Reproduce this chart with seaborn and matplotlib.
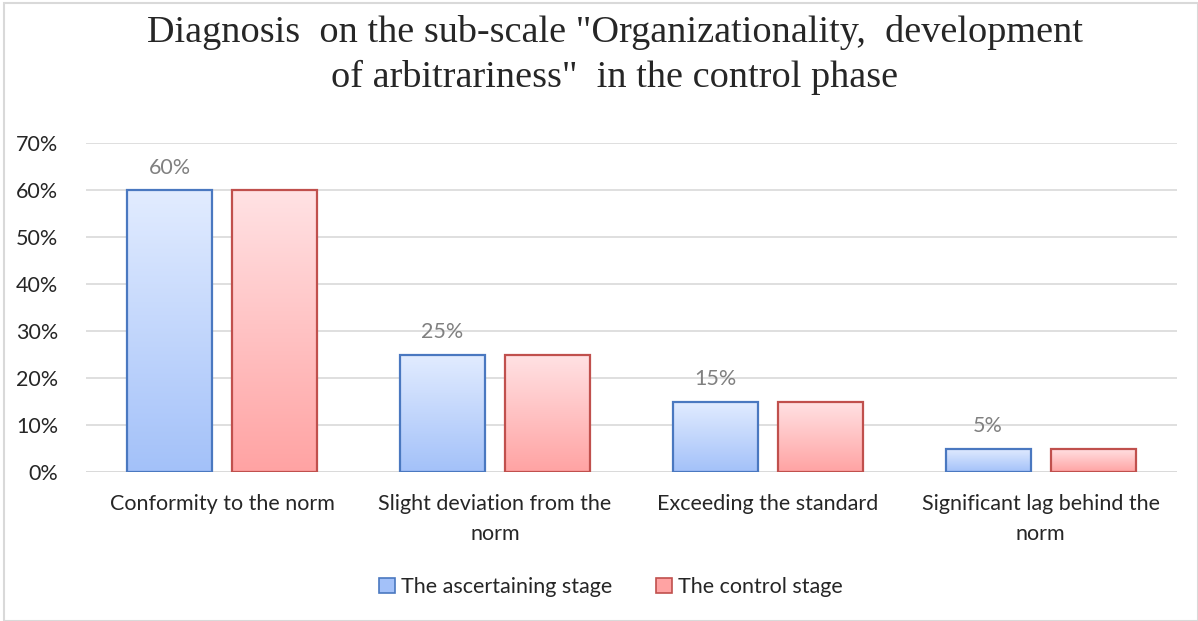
import matplotlib
matplotlib.use("Agg")
import matplotlib.pyplot as plt
import numpy as np
import pandas as pd
import seaborn as sns
from matplotlib.colors import LinearSegmentedColormap
from matplotlib.patches import Patch, Rectangle

# chart data
categories = ["Conformity to the norm", "Slight deviation from the\nnorm",
              "Exceeding the standard", "Significant lag behind the\nnorm"]
stages = ["The ascertaining stage", "The control stage"]
ascertaining = [60, 25, 15, 5]
control = [60, 25, 15, 5]
yticks = [0, 10, 20, 30, 40, 50, 60, 70]

df = pd.DataFrame({
    "category": categories * 2,
    "stage": [stages[0]] * 4 + [stages[1]] * 4,
    "value": ascertaining + control,
})

# colours: edge, top of gradient, bottom of gradient
edge_cols = {stages[0]: "#4a78c0", stages[1]: "#c0504d"}
grad_cols = {stages[0]: ("#e2ecff", "#a3c1f9"), stages[1]: ("#ffe2e4", "#ffa3a3")}

FS = 15.5

sns.set_style("white")
fig = plt.figure(figsize=(11.98, 6.21), dpi=100)
ax = fig.add_axes([86 / 1198, 1 - 472 / 621, (1177 - 86) / 1198, (472 - 143) / 621])

sns.barplot(data=df, x="category", y="value", hue="stage", ax=ax,
            palette=[grad_cols[s][1] for s in stages], width=0.77, gap=0.19,
            legend=False, zorder=3)

# gradient fill for each bar, clipped to the bar shape
for cont, stage in zip(ax.containers, stages):
    cmap = LinearSegmentedColormap.from_list(stage, [grad_cols[stage][1], grad_cols[stage][0]])
    for bar in cont:
        x0, y0 = bar.get_x(), bar.get_y()
        w, h = bar.get_width(), bar.get_height()
        grad = np.linspace(0, 1, 256).reshape(-1, 1)
        im = ax.imshow(grad, cmap=cmap, origin="lower", aspect="auto",
                       extent=[x0, x0 + w, y0, y0 + h], zorder=2)
        im.set_clip_path(bar)
        bar.set_facecolor("none")
        bar.set_edgecolor(edge_cols[stage])
        bar.set_linewidth(1.6)
        bar.set_zorder(4)

ax.set_xlim(-0.5, 3.5)
ax.set_ylim(0, 70)

# data labels only on the first series
ax.bar_label(ax.containers[0], labels=[f"{v}%" for v in ascertaining], padding=9,
             color="#808080", fontsize=FS, family="Lato")

ax.set_yticks(yticks)
ax.set_yticklabels([f"{v}%" for v in yticks], fontsize=FS, family="Lato")
ax.tick_params(axis="x", labelsize=FS, length=0, pad=16)
ax.tick_params(axis="y", length=0, pad=20)
for lab in ax.get_xticklabels():
    lab.set_family("Lato")
    lab.set_linespacing(1.6)
ax.yaxis.grid(True, color="#d9d9d9", linewidth=1.2, zorder=0)
ax.set_axisbelow(True)
for s in ax.spines.values():
    s.set_visible(False)
ax.axhline(0, color="#d9d9d9", linewidth=1.2, zorder=1)
ax.set_xlabel("")
ax.set_ylabel("")

fig.text(0.513, 1 - 55 / 621,
         "Diagnosis  on the sub-scale \"Organizationality,  development\nof arbitrariness\"  in the control phase",
         ha="center", va="center", fontsize=27.5, family="Liberation Serif", linespacing=1.33)

handles = [Patch(facecolor=grad_cols[s][1], edgecolor=edge_cols[s], linewidth=1.2, label=s) for s in stages]
fig.legend(handles=handles, loc="center", bbox_to_anchor=(0.51, 1 - 587 / 621), ncol=2,
           frameon=False, prop={"family": "Lato", "size": FS}, handlelength=0.75,
           handleheight=0.75, handletextpad=0.3, columnspacing=2.0)

fig.patches.append(Rectangle((4 / 1198, 0), 1 - 4 / 1198, 1 - 3 / 621, transform=fig.transFigure,
                             fill=False, edgecolor="#d9d9d9", linewidth=1.5))

fig.savefig("out.png", dpi=100)
